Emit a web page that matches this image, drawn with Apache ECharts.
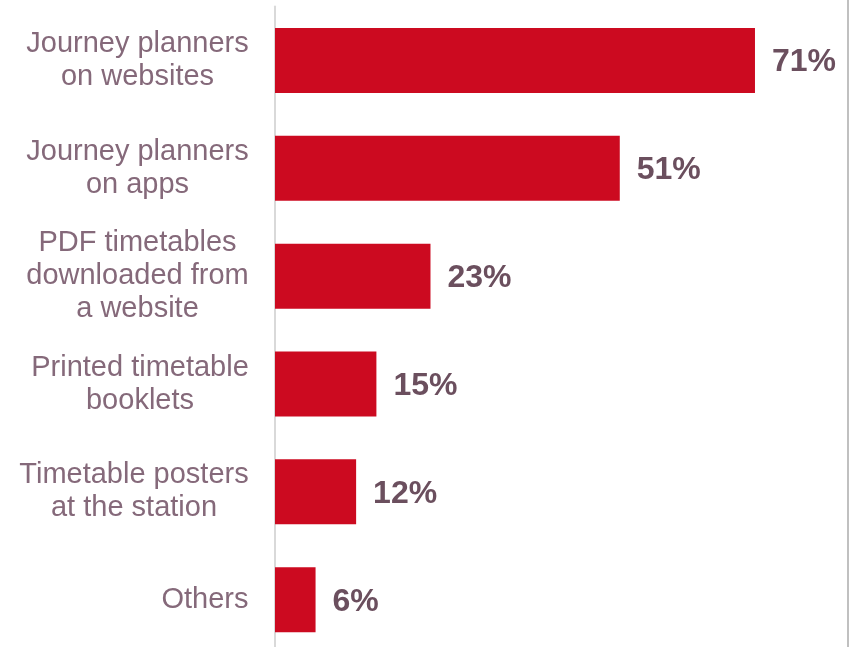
<!DOCTYPE html>
<html>
<head>
<meta charset="utf-8">
<style>
  html, body { margin: 0; padding: 0; background: #ffffff; }
  #chart { width: 853px; height: 647px; }
</style>
<script src="https://cdn.jsdelivr.net/npm/echarts@6/dist/echarts.min.js"></script>
</head>
<body>
<div id="chart"></div>
<script>
// Information sources used, share of respondents (%)
const categories = [
  'Journey planners\non websites',
  'Journey planners\non apps',
  'PDF timetables\ndownloaded from\na website',
  'Printed timetable\nbooklets',
  'Timetable posters\nat the station',
  'Others'
];
const values = [71, 51, 23, 15, 12, 6];

const labelFont = '29px "Liberation Sans", Arial, sans-serif';

// Width of the widest line of a label, so its lines can be centred
// inside a right-aligned block.
const measureCtx = document.createElement('canvas').getContext('2d');
measureCtx.font = labelFont;
function blockWidth(text) {
  return Math.ceil(Math.max(...text.split('\n').map(l => measureCtx.measureText(l).width)));
}
const labelStyle = {
  color: '#85697a',
  fontFamily: '"Liberation Sans", Arial, sans-serif',
  fontSize: 29,
  lineHeight: 33
};
const rich = {};
categories.forEach((c, i) => {
  rich['c' + i] = Object.assign({ width: blockWidth(c), align: 'center' }, labelStyle);
});

const chart = echarts.init(document.getElementById('chart'), null, { renderer: 'canvas' });

chart.setOption({
  animation: false,
  backgroundColor: '#ffffff',
  grid: {
    left: 275, top: 6.6, width: 578, height: 647,
    containLabel: false,
    outerBoundsMode: 'none'
  },
  xAxis: {
    type: 'value',
    min: 0,
    max: 85.5,
    show: false
  },
  yAxis: {
    type: 'category',
    data: categories,
    inverse: true,
    axisLine: { show: true, lineStyle: { color: '#d9d9d9', width: 2 } },
    axisTick: { show: false },
    splitLine: { show: false },
    axisLabel: Object.assign({
      margin: 26,
      align: 'right',
      rich: rich,
      formatter: (v, i) => v.split('\n').map(l => '{c' + i + '|' + l + '}').join('\n')
    }, labelStyle)
  },
  series: [{
    type: 'bar',
    data: values,
    barWidth: 65,
    itemStyle: { color: '#cc0a20' },
    label: {
      show: true,
      position: 'right',
      distance: 17,
      formatter: p => p.value + '%',
      color: '#6b4f5e',
      fontFamily: '"Liberation Sans", Arial, sans-serif',
      fontSize: 32,
      fontWeight: 'bold',
      offset: [0, 2]
    }
  }],
  graphic: [{
    type: 'line',
    shape: { x1: 848, y1: 0, x2: 848, y2: 647 },
    style: { stroke: '#c0c0c0', lineWidth: 2 }
  }]
});
</script>
</body>
</html>
